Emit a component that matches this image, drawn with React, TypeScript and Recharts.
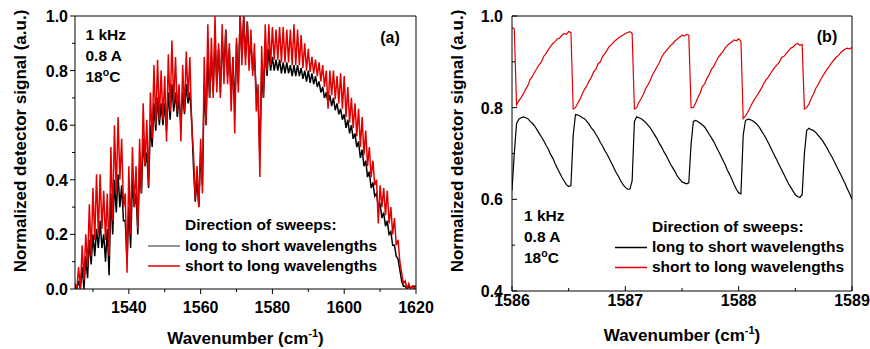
import React from "react";
import { LineChart, Line, XAxis, YAxis, ReferenceLine } from "recharts";

const FONT = "Arial, 'Liberation Sans', Helvetica, sans-serif";
const RED = "#e00000";

// ---- panel (a): full spectrum, one hi / lo reading per cm-1 ----
const startA = 1525;
const redHiA = [
  0.02, 0.08, 0.16, 0.2, 0.31, 0.37, 0.42, 0.42, 0.36, 0.35,
  0.52, 0.6, 0.63, 0.55, 0.35, 0.45, 0.52, 0.45, 0.55, 0.68,
  0.62, 0.72, 0.82, 0.84, 0.8, 0.78, 0.86, 0.91, 0.85, 0.75,
  0.82, 0.87, 0.85, 0.5, 0.45, 0.55, 0.85, 0.97, 0.92, 1.0,
  0.9, 0.97, 0.95, 0.9, 0.85, 0.92, 1.0, 1.0, 0.98, 0.95,
  0.9, 0.75, 0.89, 0.97, 0.97, 0.96, 0.95, 0.96, 0.96, 0.95,
  0.95, 0.97, 0.95, 0.93, 0.9, 0.88, 0.85, 0.84, 0.83, 0.82,
  0.8, 0.8, 0.8, 0.78, 0.79, 0.78, 0.74, 0.7, 0.68, 0.66,
  0.63, 0.58, 0.52, 0.47, 0.4, 0.38, 0.37, 0.36, 0.3, 0.26,
  0.18, 0.06, 0.03, 0.02, 0.01, 0.01,
];
const redLoA = [
  0.0, 0.0, 0.03, 0.08, 0.12, 0.18, 0.2, 0.22, 0.18, 0.12,
  0.25, 0.35, 0.4, 0.3, 0.06, 0.2, 0.3, 0.22, 0.35, 0.45,
  0.38, 0.55, 0.6, 0.62, 0.62, 0.54, 0.65, 0.68, 0.65, 0.54,
  0.65, 0.7, 0.6, 0.33, 0.3, 0.35, 0.6, 0.7, 0.7, 0.72,
  0.7, 0.75, 0.75, 0.65, 0.57, 0.72, 0.82, 0.82, 0.8, 0.78,
  0.65, 0.41, 0.7, 0.8, 0.82, 0.84, 0.84, 0.83, 0.83, 0.83,
  0.82, 0.82, 0.82, 0.81, 0.8, 0.795, 0.79, 0.78, 0.76, 0.74,
  0.66, 0.71, 0.695, 0.68, 0.66, 0.63, 0.61, 0.59, 0.56, 0.52,
  0.49, 0.45, 0.41, 0.38, 0.24, 0.3, 0.27, 0.24, 0.2, 0.16,
  0.1, 0.02, 0.0, 0.0, 0.0, 0.0,
];
const blackHiA = [
  0.01, 0.03, 0.08, 0.12, 0.18, 0.2, 0.22, 0.25, 0.2, 0.22,
  0.35, 0.4, 0.42, 0.38, 0.25, 0.3, 0.4, 0.35, 0.45, 0.55,
  0.5, 0.6, 0.68, 0.7, 0.68, 0.68, 0.72, 0.75, 0.72, 0.7,
  0.72, 0.75, 0.72, 0.45, 0.4, 0.5, 0.75, 0.85, 0.85, 0.92,
  0.88, 0.92, 0.95, 0.88, 0.85, 0.9, 1.0, 1.0, 0.98, 0.9,
  0.85, 0.7, 0.8, 0.88, 0.88, 0.85, 0.84, 0.84, 0.83, 0.83,
  0.82, 0.82, 0.82, 0.81, 0.8, 0.8, 0.79, 0.78, 0.76, 0.74,
  0.72, 0.71, 0.7, 0.68, 0.66, 0.64, 0.62, 0.6, 0.57, 0.54,
  0.51, 0.47, 0.43, 0.39, 0.35, 0.31, 0.28, 0.25, 0.21, 0.16,
  0.11, 0.03, 0.01, 0.01, 0.01, 0.01,
];
const blackLoA = [
  0.0, 0.0, 0.0, 0.04, 0.09, 0.12, 0.15, 0.15, 0.1, 0.05,
  0.2, 0.28, 0.3, 0.25, 0.1, 0.15, 0.3, 0.2, 0.35, 0.45,
  0.37, 0.52, 0.58, 0.6, 0.6, 0.58, 0.62, 0.65, 0.63, 0.6,
  0.64, 0.68, 0.62, 0.32, 0.3, 0.38, 0.6, 0.7, 0.72, 0.75,
  0.72, 0.78, 0.78, 0.7, 0.65, 0.75, 0.85, 0.85, 0.85, 0.8,
  0.72, 0.49, 0.7, 0.78, 0.8, 0.8, 0.8, 0.79, 0.79, 0.79,
  0.78, 0.78, 0.78, 0.77, 0.76, 0.755, 0.75, 0.74, 0.72, 0.7,
  0.68, 0.67, 0.655, 0.64, 0.62, 0.59, 0.57, 0.55, 0.52, 0.48,
  0.45, 0.41, 0.37, 0.34, 0.3, 0.26, 0.23, 0.2, 0.16, 0.12,
  0.07, 0.01, 0.0, 0.005, 0.01, 0.01,
];
const xTicksA = [1530, 1540, 1550, 1560, 1570, 1580, 1590, 1600, 1610, 1620];
const yTicksA = [0, 0.1, 0.2, 0.3, 0.4, 0.5, 0.6, 0.7, 0.8, 0.9, 1.0];

// ---- panel (b): zoom 1586-1589 cm-1, step 0.02 ----
const startB = 1586;
const stepB = 0.02;
const redB = [
  0.975, 0.972, 0.806, 0.815, 0.822, 0.83, 0.84, 0.848, 0.862, 0.868,
  0.878, 0.886, 0.894, 0.9, 0.912, 0.918, 0.926, 0.934, 0.94, 0.944,
  0.95, 0.952, 0.958, 0.962, 0.96, 0.966, 0.964, 0.797, 0.8, 0.81,
  0.818, 0.83, 0.84, 0.848, 0.858, 0.866, 0.878, 0.884, 0.896, 0.9,
  0.912, 0.918, 0.926, 0.934, 0.938, 0.944, 0.948, 0.952, 0.956, 0.958,
  0.962, 0.964, 0.966, 0.962, 0.797, 0.8, 0.812, 0.82, 0.83, 0.842,
  0.85, 0.86, 0.872, 0.88, 0.89, 0.898, 0.91, 0.918, 0.924, 0.93,
  0.936, 0.94, 0.946, 0.95, 0.954, 0.958, 0.956, 0.96, 0.958, 0.8,
  0.8, 0.81, 0.822, 0.832, 0.846, 0.852, 0.864, 0.872, 0.884, 0.89,
  0.9, 0.91, 0.916, 0.922, 0.93, 0.936, 0.94, 0.944, 0.948, 0.946,
  0.95, 0.945, 0.776, 0.782, 0.79, 0.8, 0.81, 0.818, 0.826, 0.834,
  0.842, 0.852, 0.86, 0.866, 0.874, 0.882, 0.888, 0.894, 0.9, 0.91,
  0.912, 0.918, 0.924, 0.93, 0.932, 0.938, 0.94, 0.936, 0.938, 0.797,
  0.8, 0.808, 0.82, 0.83, 0.842, 0.85, 0.86, 0.868, 0.876, 0.884,
  0.89, 0.898, 0.904, 0.91, 0.914, 0.92, 0.924, 0.928, 0.93, 0.928,
  0.932,
];
const blackB = [
  0.62, 0.7, 0.765, 0.775, 0.778, 0.78, 0.778, 0.776, 0.77, 0.766,
  0.76, 0.752, 0.744, 0.736, 0.728, 0.718, 0.71, 0.698, 0.69, 0.678,
  0.668, 0.658, 0.648, 0.64, 0.632, 0.628, 0.63, 0.74, 0.785, 0.784,
  0.782, 0.778, 0.776, 0.77, 0.764, 0.756, 0.75, 0.742, 0.734, 0.724,
  0.716, 0.706, 0.698, 0.688, 0.678, 0.668, 0.658, 0.65, 0.64, 0.632,
  0.626, 0.622, 0.622, 0.64, 0.77, 0.78, 0.778, 0.776, 0.772, 0.768,
  0.762, 0.756, 0.748, 0.74, 0.732, 0.722, 0.714, 0.704, 0.696, 0.686,
  0.676, 0.668, 0.66, 0.65, 0.644, 0.638, 0.636, 0.634, 0.636, 0.72,
  0.77, 0.772, 0.77, 0.766, 0.762, 0.758, 0.75, 0.742, 0.734, 0.726,
  0.716, 0.706, 0.696, 0.686, 0.676, 0.664, 0.654, 0.644, 0.632, 0.622,
  0.614, 0.612, 0.74, 0.772, 0.775, 0.774, 0.772, 0.768, 0.764, 0.758,
  0.75, 0.742, 0.734, 0.724, 0.714, 0.704, 0.694, 0.684, 0.674, 0.664,
  0.654, 0.644, 0.634, 0.626, 0.618, 0.61, 0.606, 0.604, 0.61, 0.7,
  0.75, 0.755, 0.752, 0.75, 0.746, 0.74, 0.734, 0.728, 0.72, 0.712,
  0.702, 0.694, 0.684, 0.674, 0.664, 0.654, 0.644, 0.634, 0.622, 0.612,
  0.6,
];
const xTicksB = [1586, 1586.5, 1587, 1587.5, 1588, 1588.5, 1589];
const yTicksB = [0.4, 0.5, 0.6, 0.7, 0.8, 0.9, 1.0];

// hi and lo readings alternate half a wavenumber apart
const dataA: { w: number; red: number; black: number }[] = [];
redHiA.forEach((hi, i) => {
  const w = startA + i;
  dataA.push({ w, red: hi, black: blackHiA[i] });
  if (w + 0.5 <= 1620) dataA.push({ w: w + 0.5, red: redLoA[i], black: blackLoA[i] });
});

const dataB = redB.map((r, i) => ({
  w: Math.round((startB + i * stepB) * 100) / 100,
  red: r,
  black: blackB[i],
}));

const tickText = { fontFamily: FONT, fontSize: 16, fontWeight: 700, fill: "#000" };

function xTick(isMajor: (v: number) => boolean, inward: boolean, dy: number) {
  return (props: any) => {
    const { x, y, payload } = props;
    const major = isMajor(payload.value);
    const len = major ? 5 : 3;
    return (
      <g>
        <line x1={x} x2={x} y1={y} y2={inward ? y - len : y + len} stroke="#000" />
        {major && (
          <text x={x} y={y + dy} textAnchor="middle" {...tickText}>
            {String(payload.value)}
          </text>
        )}
      </g>
    );
  };
}

function yTick(inward: boolean, dx: number) {
  return (props: any) => {
    const { x, y, payload } = props;
    const major = Math.round(payload.value * 10) % 2 === 0;
    const len = major ? 5 : 3;
    return (
      <g>
        <line x1={x} x2={inward ? x + len : x - len} y1={y} y2={y} stroke="#000" />
        {major && (
          <text x={x - dx} y={y + 6} textAnchor="end" {...tickText}>
            {payload.value.toFixed(1)}
          </text>
        )}
      </g>
    );
  };
}

const txt = { fontFamily: FONT, fontWeight: 700, fill: "#000" };

function Notes({ x, y }: { x: number; y: number }) {
  return (
    <g {...txt} fontSize={15.5}>
      <text x={x} y={y}>1 kHz</text>
      <text x={x} y={y + 20.5}>0.8 A</text>
      <text x={x} y={y + 42}>
        18<tspan fontSize={10.5} dy={-6}>o</tspan>
        <tspan dy={6}>C</tspan>
      </text>
    </g>
  );
}

function SweepLegend({ x, y, lineX, grey }: { x: number; y: number; lineX: number; grey: string }) {
  return (
    <g>
      <g {...txt} fontSize={15.5}>
        <text x={x} y={y}>Direction of sweeps:</text>
        <text x={x} y={y + 20.5}>long to short wavelengths</text>
        <text x={x} y={y + 40.5}>short to long wavelengths</text>
      </g>
      <line x1={lineX} x2={lineX + 32} y1={y + 16} y2={y + 16} stroke={grey} strokeWidth={1.5} />
      <line x1={lineX} x2={lineX + 32} y1={y + 36} y2={y + 36} stroke={RED} strokeWidth={1.5} />
    </g>
  );
}

function AxisTitles({ cx, yLabelX, xLabelY }: { cx: number; yLabelX: number; xLabelY: number }) {
  return (
    <g {...txt} fontSize={17}>
      <text
        x={yLabelX}
        y={141}
        textAnchor="middle"
        transform={`rotate(-90 ${yLabelX} 141)`}
      >
        Normalized detector signal (a.u.)
      </text>
      <text x={cx} y={xLabelY} textAnchor="middle">
        Wavenumber (cm<tspan fontSize={11} dy={-7}>-1</tspan>
        <tspan dy={7}>)</tspan>
      </text>
    </g>
  );
}

export default function App() {
  return (
    <div style={{ position: "absolute", left: 0, top: 0, width: 870, height: 349, background: "#fff" }}>
      <div style={{ position: "absolute", left: 0, top: 0 }}>
        <LineChart width={440} height={349} data={dataA} margin={{ top: 16, right: 24, bottom: 0, left: 0 }}>
          <XAxis
            dataKey="w"
            type="number"
            domain={[1525, 1620]}
            ticks={xTicksA}
            interval={0}
            allowDataOverflow
            height={60}
            tickSize={0}
            tickMargin={0}
            tickLine={false}
            axisLine={{ stroke: "#000" }}
            tick={xTick((v) => v % 20 === 0, false, 24)}
          />
          <YAxis
            type="number"
            domain={[0, 1]}
            ticks={yTicksA}
            interval={0}
            allowDataOverflow
            width={75}
            tickSize={0}
            tickMargin={0}
            tickLine={false}
            axisLine={{ stroke: "#000" }}
            tick={yTick(false, 7)}
          />
          <ReferenceLine y={1} stroke="#000" ifOverflow="visible" />
          <ReferenceLine x={1620} stroke="#000" ifOverflow="visible" />
          <Line type="linear" dataKey="black" stroke="#000" strokeWidth={1.5} dot={false} isAnimationActive={false} />
          <Line type="linear" dataKey="red" stroke={RED} strokeWidth={1.5} dot={false} isAnimationActive={false} />
        </LineChart>
      </div>
      <div style={{ position: "absolute", left: 440, top: 0 }}>
        <LineChart width={430} height={349} data={dataB} margin={{ top: 16, right: 18, bottom: 0, left: 0 }}>
          <XAxis
            dataKey="w"
            type="number"
            domain={[1586, 1589]}
            ticks={xTicksB}
            interval={0}
            allowDataOverflow
            height={58}
            tickSize={0}
            tickMargin={0}
            tickLine={false}
            axisLine={{ stroke: "#000" }}
            tick={xTick((v) => Number.isInteger(v), true, 15)}
          />
          <YAxis
            type="number"
            domain={[0.4, 1]}
            ticks={yTicksB}
            interval={0}
            allowDataOverflow
            width={72}
            tickSize={0}
            tickMargin={0}
            tickLine={false}
            axisLine={{ stroke: "#000" }}
            tick={yTick(true, 9)}
          />
          <ReferenceLine y={1} stroke="#000" ifOverflow="visible" />
          <ReferenceLine x={1589} stroke="#000" ifOverflow="visible" />
          <Line type="linear" dataKey="black" stroke="#000" strokeWidth={1.2} dot={false} isAnimationActive={false} />
          <Line type="linear" dataKey="red" stroke={RED} strokeWidth={1.2} dot={false} isAnimationActive={false} />
        </LineChart>
      </div>
      <svg
        width={870}
        height={349}
        style={{ position: "absolute", left: 0, top: 0, pointerEvents: "none" }}
      >
        <AxisTitles cx={245.5} yLabelX={26} xLabelY={344} />
        <AxisTitles cx={682} yLabelX={463} xLabelY={341} />
        <Notes x={85.5} y={40} />
        <Notes x={524} y={221} />
        <text x={390} y={43} textAnchor="middle" {...txt} fontSize={16}>(a)</text>
        <text x={827} y={41.5} textAnchor="middle" {...txt} fontSize={16}>(b)</text>
        <SweepLegend x={185} y={230} lineX={148} grey="#707070" />
        <SweepLegend x={652} y={231.5} lineX={615} grey="#000" />
      </svg>
    </div>
  );
}
